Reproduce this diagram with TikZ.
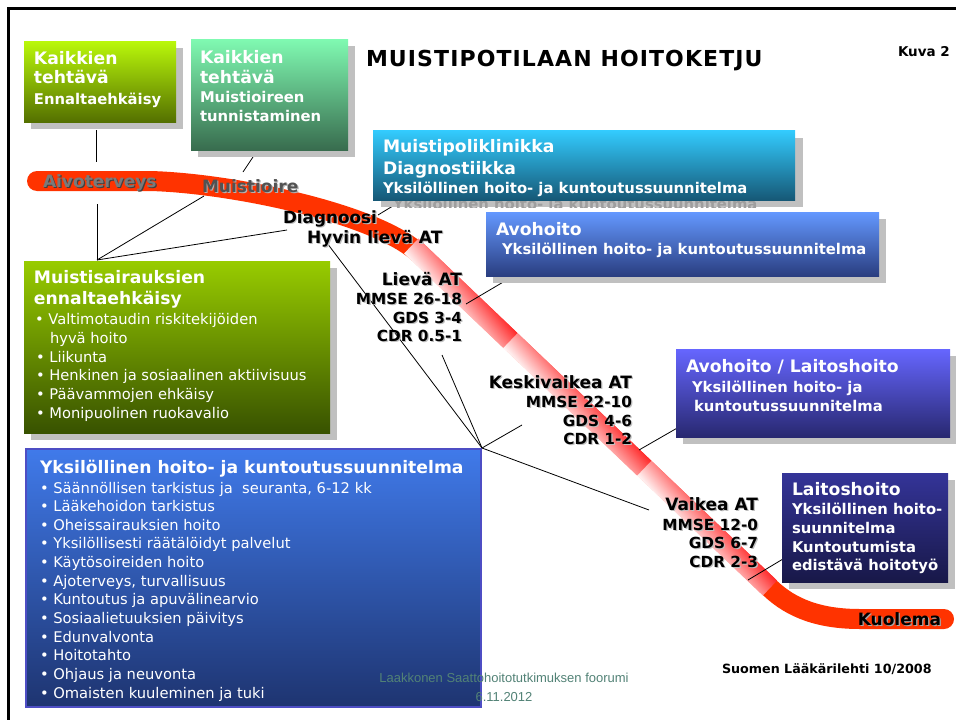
\documentclass[tikz,border=0pt]{standalone}
\usepackage{fontspec}
\setmainfont{DejaVu Sans}
\newfontfamily\lsans{Liberation Sans}
\usetikzlibrary{calc}
\definecolor{shadowgray}{RGB}{192,192,192}
\definecolor{g1t}{RGB}{186,248,10}\definecolor{g1b}{RGB}{84,112,0}
\definecolor{g2t}{RGB}{128,250,178}\definecolor{g2b}{RGB}{56,108,78}
\definecolor{c3t}{RGB}{51,204,255}\definecolor{c3b}{RGB}{22,88,118}
\definecolor{c4t}{RGB}{100,152,255}\definecolor{c4b}{RGB}{42,62,128}
\definecolor{c5t}{RGB}{102,102,255}\definecolor{c5b}{RGB}{40,40,112}
\definecolor{c6t}{RGB}{52,52,152}\definecolor{c6b}{RGB}{24,24,72}
\definecolor{g7t}{RGB}{152,204,0}\definecolor{g7b}{RGB}{56,82,0}
\definecolor{c8t}{RGB}{64,122,234}\definecolor{c8b}{RGB}{30,52,112}
\definecolor{c8edge}{RGB}{78,78,196}
\definecolor{bandred}{RGB}{255,51,0}
\definecolor{bandred2}{RGB}{255,40,40}
\definecolor{bandpale}{RGB}{255,240,240}
\definecolor{srcgreen}{RGB}{82,130,118}
\newcommand\txtshadow[2]{\rlap{\kern1.2pt\raisebox{-1.2pt}{\textcolor{#1}{#2}}}#2}
\begin{document}
\begin{tikzpicture}[x=1pt,y=-1pt,
  every node/.style={inner sep=0pt, outer sep=0pt},
  shadowed/.style={preaction={fill=shadowgray, transform canvas={shift={(7,7)}}}},
  hd/.style={anchor=base west, text=white, font=\bfseries\fontsize{17.2}{20}\selectfont},
  sb/.style={anchor=base west, text=white, font=\bfseries\fontsize{14.8}{18}\selectfont},
  rg/.style={anchor=base west, text=white, font=\fontsize{14.7}{18}\selectfont},
  stage/.style={anchor=base east, font=\bfseries\fontsize{17}{20}\selectfont},
  score/.style={anchor=base east, font=\bfseries\fontsize{15.3}{18}\selectfont},
  onband/.style={anchor=base west, font=\bfseries\fontsize{17}{20}\selectfont},
  conn/.style={line width=0.8pt, draw=black},
]
\useasboundingbox (0,0) rectangle (956,720);
\fill[white] (0,0) rectangle (956,720);
\draw[line width=2.5pt] (8.7,740) -- (8.7,8.7) -- (970,8.7);

% ---------- the red band ----------
\draw[bandred, line width=20pt, line cap=round, line join=round]
  (37,181) -- (150,181) .. controls (230,183) and (376.6,212.9) .. (420,254.3)
  -- (770,588) .. controls (791.7,608.7) and (820,619) .. (860,619) -- (944,619);
\begin{scope}[transform canvas={shift={(420,254.3)}, rotate=-43.64}]
  \foreach \s/\e in {-12/125, 125/310, 310/483.5}{
    \shade[top color=bandred2, bottom color=bandpale] (\s,-10.3) rectangle (\e,10.3);
    \shade[left color=white, right color=bandred2, opacity=0.45] (\s,-10.3) rectangle (\e,10.3);
  }
\end{scope}

% ---------- connector end points ----------
\coordinate (hubA) at (97,260);
\coordinate (hubB) at (482,448);
\coordinate (b1foot) at (96,130);
\coordinate (aivoTop) at (96,162);
\coordinate (b2foot) at (257,151);
\coordinate (muisTop) at (243,172);
\coordinate (aivoBot) at (97,204);
\coordinate (muisBot) at (204,196);
\coordinate (diagW) at (287,230);
\coordinate (diagE) at (378,215);
\coordinate (b3foot) at (401,201);
\coordinate (hyvin) at (327,243);
\coordinate (lievaBot) at (442,355);
\coordinate (keskiW) at (522,425);
\coordinate (vaikeaW) at (649,510);
\coordinate (lievaE) at (466,304);
\coordinate (b4foot) at (505,281);
\coordinate (keskiE) at (639,450);
\coordinate (b5foot) at (679,427);
\coordinate (vaikeaE) at (748,580);
\coordinate (b6foot) at (788,556);

\draw[conn] (b1foot) -- (aivoTop);
\draw[conn] (b2foot) -- (muisTop);
\draw[conn] (hubA) -- (aivoBot);
\draw[conn] (hubA) -- (muisBot);
\draw[conn] (hubA) -- (diagW);
\draw[conn] (diagE) -- (b3foot);
\draw[conn] (hubB) -- (hyvin);
\draw[conn] (hubB) -- (lievaBot);
\draw[conn] (hubB) -- (keskiW);
\draw[conn] (hubB) -- (vaikeaW);
\draw[conn] (lievaE) -- (b4foot);
\draw[conn] (keskiE) -- (b5foot);
\draw[conn] (vaikeaE) -- (b6foot);

% ---------- boxes ----------
\node[shadowed, top color=g1t, bottom color=g1b, minimum width=152pt, minimum height=81pt] (b1) at (100,81.5) {};
\node[shadowed, top color=g2t, bottom color=g2b, minimum width=157pt, minimum height=111pt] (b2) at (269.5,94.5) {};

\fill[shadowgray] (381,138) rectangle (803,207);
\begin{scope}
  \clip (381,138) rectangle (803,207);
  \node[anchor=base west, text=black!38, font=\bfseries\fontsize{14.8}{18}\selectfont] (b3ghost) at (393,209) {Yksilöllinen hoito- ja kuntoutussuunnitelma};
\end{scope}
\node[top color=c3t, bottom color=c3b, minimum width=422pt, minimum height=70pt] (b3) at (584,165) {};

\node[shadowed, top color=c4t, bottom color=c4b, minimum width=393pt, minimum height=64pt] (b4) at (682.5,244) {};
\node[shadowed, top color=c5t, bottom color=c5b, minimum width=274pt, minimum height=88pt] (b5) at (813,393) {};
\node[shadowed, top color=c6t, bottom color=c6b, minimum width=166pt, minimum height=109pt] (b6) at (865,527.5) {};
\node[shadowed, top color=g7t, bottom color=g7b, minimum width=306pt, minimum height=172pt] (b7) at (177,347) {};
\node[top color=c8t, bottom color=c8b, draw=c8edge, line width=1.8pt, minimum width=455pt, minimum height=258pt] (b8) at (253.5,578) {};

% ---------- box texts ----------
\node[hd] (b1a) at (34,64) {Kaikkien};
\node[hd] (b1b) at (34,83) {tehtävä};
\node[sb] (b1c) at (34,104) {Ennaltaehkäisy};

\node[hd] (b2a) at (200,63) {Kaikkien};
\node[hd] (b2b) at (200,83) {tehtävä};
\node[sb] (b2c) at (200,102) {Muistioireen};
\node[sb] (b2d) at (200,121) {tunnistaminen};

\node[hd] (b3a) at (383,152) {Muistipoliklinikka};
\node[hd] (b3b) at (383,174) {Diagnostiikka};
\node[sb] (b3c) at (383,193) {Yksilöllinen hoito- ja kuntoutussuunnitelma};

\node[hd] (b4a) at (496,235) {Avohoito};
\node[sb] (b4b) at (502,254) {Yksilöllinen hoito- ja kuntoutussuunnitelma};

\node[hd] (b5a) at (686,372) {Avohoito / Laitoshoito};
\node[sb] (b5b) at (692,392) {Yksilöllinen hoito- ja};
\node[sb] (b5c) at (694,411) {kuntoutussuunnitelma};

\node[hd] (b6a) at (792,495) {Laitoshoito};
\node[sb] (b6b) at (792,514) {Yksilöllinen hoito-};
\node[sb] (b6c) at (792,533) {suunnitelma};
\node[sb] (b6d) at (792,552) {Kuntoutumista};
\node[sb] (b6e) at (792,570) {edistävä hoitotyö};

\node[hd] (b7a) at (34,283) {Muistisairauksien};
\node[hd] (b7b) at (34,304) {ennaltaehkäisy};
\node[rg] (b7c) at (35,324) {• Valtimotaudin riskitekijöiden};
\node[rg] (b7d) at (50,343) {hyvä hoito};
\node[rg] (b7e) at (36,362) {• Liikunta};
\node[rg] (b7f) at (36,380) {• Henkinen ja sosiaalinen aktiivisuus};
\node[rg] (b7g) at (36,399) {• Päävammojen ehkäisy};
\node[rg] (b7h) at (36,418) {• Monipuolinen ruokavalio};

\node[hd] (b8t) at (40,473) {Yksilöllinen hoito- ja kuntoutussuunnitelma};
\foreach \t [count=\i] in {{• Säännöllisen tarkistus ja~ seuranta, 6-12 kk},
  {• Lääkehoidon tarkistus}, {• Oheissairauksien hoito},
  {• Yksilöllisesti räätälöidyt palvelut}, {• Käytösoireiden hoito},
  {• Ajoterveys, turvallisuus}, {• Kuntoutus ja apuvälinearvio},
  {• Sosiaalietuuksien päivitys}, {• Edunvalvonta}, {• Hoitotahto},
  {• Ohjaus ja neuvonta}, {• Omaisten kuuleminen ja tuki}}{
  \node[rg] (b8l\i) at (40,{493+18.64*(\i-1)}) {\t};
}

% ---------- labels on the band ----------
\node[onband, text=black!52] (aivo) at (43,187) {\txtshadow{black!75}{Aivoterveys}};
\node[onband, text=black!68] (muis) at (202,192) {\txtshadow{black!30}{Muistioire}};
\node[onband, font=\bfseries\fontsize{16.8}{20}\selectfont] (diag) at (283,223) {\txtshadow{black!25}{Diagnoosi}};
\node[onband] (hyvinlbl) at (307,243) {\txtshadow{black!25}{Hyvin lievä AT}};

\node[stage] (lieva) at (462,285) {\txtshadow{black!25}{Lievä AT}};
\node[score] (lieva1) at (462,304) {\txtshadow{black!25}{MMSE 26-18}};
\node[score] (lieva2) at (462,323) {\txtshadow{black!25}{GDS 3-4}};
\node[score] (lieva3) at (462,341) {\txtshadow{black!25}{CDR 0.5-1}};

\node[stage] (keski) at (632,388) {\txtshadow{black!25}{Keskivaikea AT}};
\node[score] (keski1) at (632,407) {\txtshadow{black!25}{MMSE 22-10}};
\node[score] (keski2) at (632,426) {\txtshadow{black!25}{GDS 4-6}};
\node[score] (keski3) at (632,444) {\txtshadow{black!25}{CDR 1-2}};

\node[stage] (vaikea) at (758,510) {\txtshadow{black!25}{Vaikea AT}};
\node[score] (vaikea1) at (758,530) {\txtshadow{black!25}{MMSE 12-0}};
\node[score] (vaikea2) at (758,548) {\txtshadow{black!25}{GDS 6-7}};
\node[score] (vaikea3) at (758,567) {\txtshadow{black!25}{CDR 2-3}};

\node[stage] (kuolema) at (941,625) {\txtshadow{black!35}{Kuolema}};

% ---------- titles and sources ----------
\node[anchor=base west, font=\bfseries\fontsize{22}{26}\selectfont\addfontfeature{LetterSpace=5}] (title) at (366,66) {MUISTIPOTILAAN HOITOKETJU};
\node[anchor=base west, font=\bfseries\fontsize{13.5}{16}\selectfont] (kuva) at (898,56) {Kuva 2};
\node[anchor=base west, font=\bfseries\fontsize{12.7}{15}\selectfont] (lehti) at (722,673) {Suomen Lääkärilehti 10/2008};
\node[anchor=base, text=srcgreen, font=\lsans\fontsize{13}{15}\selectfont] (src1) at (504,682) {Laakkonen Saattohoitotutkimuksen foorumi};
\node[anchor=base, text=srcgreen, font=\lsans\fontsize{13}{15}\selectfont] (src2) at (504,701) {6.11.2012};
\end{tikzpicture}
\end{document}
